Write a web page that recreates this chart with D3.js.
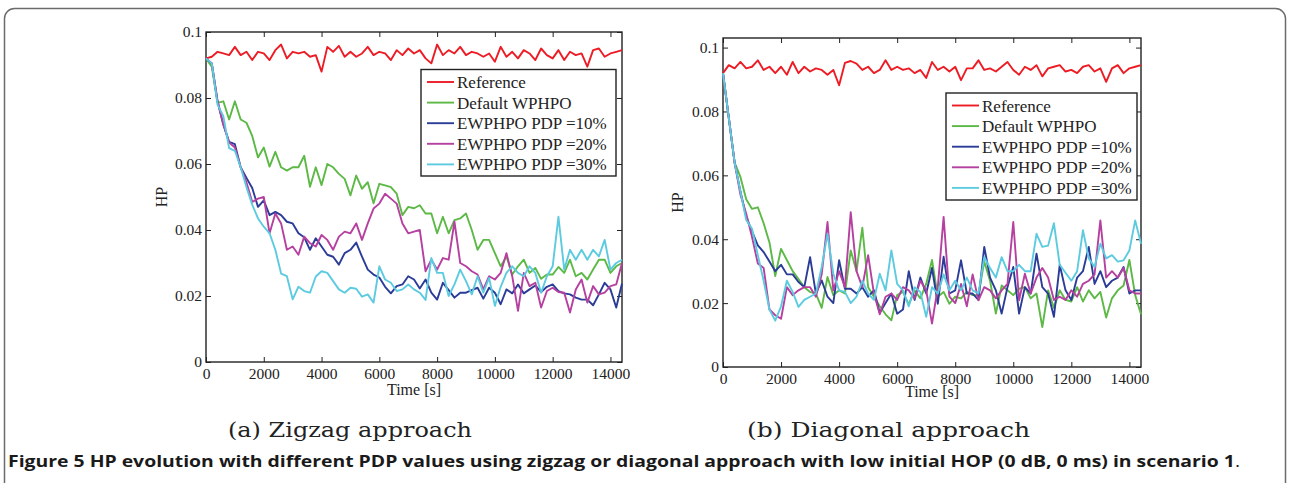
<!DOCTYPE html>
<html>
<head>
<meta charset="utf-8">
<script src="https://cdn.jsdelivr.net/npm/d3@7/dist/d3.min.js"></script>
<style>
  body { margin: 0; background: #fff; }
  svg { display: block; }
  .tick text { font-family: "Liberation Serif", "Times New Roman", serif; font-size: 15.5px; fill: #222; }
</style>
</head>
<body>
<svg id="fig" width="1290" height="483"></svg>
<script>
// time axis (s), one sample every 200 s
var times = d3.range(0, 14401, 200);
var xTicks = [0, 2000, 4000, 6000, 8000, 10000, 12000, 14000];
var yTicks = [0, 0.02, 0.04, 0.06, 0.08, 0.1];
var seriesNames = ["Reference", "Default WPHPO", "EWPHPO PDP =10%", "EWPHPO PDP =20%", "EWPHPO PDP =30%"];
var seriesColors = ["#ed1c24", "#5cb946", "#2a3c97", "#b6409f", "#5ccbe0"];

// (a) zigzag approach
var zigRef = [0.092,0.0925,0.094,0.0935,0.093,0.0955,0.093,0.094,0.0915,0.094,
  0.0935,0.0915,0.0945,0.0962,0.092,0.094,0.0935,0.094,0.0925,0.093,
  0.088,0.0955,0.094,0.0958,0.0925,0.094,0.0925,0.0935,0.0955,0.093,
  0.094,0.0935,0.0915,0.0945,0.093,0.095,0.0935,0.0945,0.092,0.0905,
  0.0962,0.093,0.0945,0.0935,0.0955,0.093,0.094,0.0935,0.0925,0.0935,
  0.091,0.0955,0.0925,0.094,0.092,0.0945,0.0935,0.0915,0.095,0.093,
  0.092,0.0945,0.0915,0.094,0.093,0.0935,0.0895,0.0945,0.095,0.0925,
  0.0935,0.094,0.0945];
var zigDefault = [0.092,0.0895,0.0785,0.079,0.0735,0.079,0.0735,0.0725,0.0685,0.062,
  0.065,0.0592,0.0637,0.059,0.058,0.059,0.059,0.0625,0.0531,0.059,
  0.0536,0.060,0.059,0.057,0.0555,0.0505,0.0565,0.0525,0.0545,0.0481,
  0.054,0.0535,0.053,0.051,0.0445,0.047,0.0466,0.0475,0.045,0.045,
  0.039,0.044,0.039,0.043,0.0435,0.045,0.040,0.034,0.037,0.037,
  0.033,0.029,0.032,0.0265,0.029,0.031,0.027,0.0285,0.0252,0.0265,
  0.0265,0.0288,0.027,0.031,0.026,0.027,0.025,0.028,0.031,0.031,
  0.027,0.029,0.030];
var zigPdp10 = [0.092,0.0905,0.079,0.072,0.0667,0.066,0.059,0.0558,0.0527,0.047,
  0.049,0.0445,0.0455,0.0445,0.0425,0.042,0.039,0.0378,0.034,0.0375,
  0.035,0.0325,0.0319,0.0295,0.033,0.034,0.0362,0.0319,0.028,0.0265,
  0.0256,0.0228,0.0208,0.023,0.0235,0.026,0.025,0.0223,0.025,0.021,
  0.0189,0.024,0.0218,0.0195,0.021,0.021,0.0218,0.0225,0.0192,0.0225,
  0.021,0.0175,0.022,0.0208,0.0235,0.0208,0.022,0.0232,0.0212,0.0228,
  0.0235,0.0215,0.0208,0.0205,0.0195,0.0189,0.0189,0.0172,0.0205,0.024,
  0.022,0.0165,0.0238];
var zigPdp20 = [0.092,0.0905,0.079,0.072,0.0665,0.065,0.059,0.0545,0.0485,0.0495,
  0.050,0.039,0.045,0.042,0.034,0.035,0.0325,0.038,0.036,0.035,
  0.0385,0.037,0.034,0.038,0.0395,0.039,0.042,0.037,0.042,0.0465,
  0.048,0.051,0.0495,0.048,0.042,0.039,0.0395,0.040,0.0275,0.031,
  0.028,0.0315,0.031,0.0425,0.030,0.029,0.0275,0.0265,0.022,0.026,
  0.025,0.027,0.033,0.026,0.0155,0.027,0.023,0.024,0.0165,0.0215,
  0.0225,0.0212,0.021,0.015,0.022,0.025,0.018,0.023,0.0205,0.021,
  0.023,0.0235,0.030];
var zigPdp30 = [0.092,0.0905,0.078,0.0745,0.0648,0.064,0.059,0.053,0.0477,0.0435,
  0.041,0.039,0.034,0.0268,0.026,0.019,0.0228,0.0215,0.021,0.0259,
  0.0275,0.027,0.0245,0.022,0.021,0.0225,0.0222,0.0198,0.0205,0.018,
  0.029,0.025,0.024,0.0215,0.022,0.0235,0.022,0.021,0.0188,0.0315,
  0.027,0.027,0.020,0.0235,0.028,0.0245,0.0205,0.026,0.021,0.0255,
  0.017,0.0228,0.027,0.029,0.027,0.026,0.029,0.027,0.021,0.026,
  0.029,0.044,0.028,0.034,0.031,0.034,0.031,0.034,0.032,0.037,
  0.028,0.030,0.031];

// (b) diagonal approach
var diagRef = [0.092,0.0945,0.0935,0.0955,0.0935,0.094,0.096,0.093,0.094,0.092,
  0.094,0.0915,0.0955,0.092,0.094,0.0925,0.0935,0.093,0.0915,0.093,
  0.0882,0.0952,0.0958,0.095,0.093,0.094,0.092,0.093,0.096,0.093,
  0.094,0.093,0.0935,0.092,0.093,0.0905,0.0955,0.093,0.094,0.0925,
  0.094,0.0898,0.0935,0.0935,0.096,0.093,0.0935,0.0925,0.094,0.0955,
  0.093,0.0915,0.094,0.093,0.0945,0.091,0.0935,0.094,0.0945,0.0925,
  0.093,0.092,0.094,0.0945,0.0925,0.0935,0.0893,0.0935,0.0945,0.092,
  0.0935,0.094,0.0945];
var diagDefault = [0.092,0.078,0.064,0.0595,0.0525,0.0495,0.050,0.045,0.039,0.0285,
  0.037,0.0335,0.030,0.0275,0.025,0.0235,0.023,0.0185,0.0282,0.0225,
  0.024,0.023,0.0365,0.030,0.0436,0.025,0.022,0.019,0.0165,0.0146,
  0.0225,0.0235,0.0195,0.024,0.0215,0.026,0.0335,0.022,0.0235,0.0198,
  0.022,0.0215,0.0235,0.0225,0.0225,0.033,0.027,0.0167,0.0255,0.024,
  0.0225,0.0245,0.025,0.0215,0.023,0.0125,0.024,0.0185,0.024,0.021,
  0.0205,0.025,0.0205,0.024,0.0215,0.0235,0.0155,0.0215,0.024,0.0255,
  0.0335,0.0225,0.0165];
var diagPdp10 = [0.092,0.078,0.064,0.055,0.047,0.0425,0.0381,0.036,0.033,0.030,
  0.032,0.029,0.029,0.0266,0.025,0.0344,0.023,0.0271,0.022,0.020,
  0.0334,0.0245,0.0245,0.023,0.025,0.022,0.024,0.017,0.020,0.023,
  0.0167,0.018,0.030,0.021,0.028,0.023,0.031,0.0198,0.0345,0.023,
  0.024,0.0334,0.023,0.023,0.021,0.0376,0.028,0.024,0.0167,0.025,
  0.0313,0.0167,0.025,0.023,0.0355,0.025,0.023,0.0157,0.032,0.024,
  0.021,0.028,0.030,0.0376,0.026,0.030,0.025,0.027,0.028,0.0313,
  0.023,0.024,0.024];
var diagPdp20 = [0.092,0.078,0.064,0.054,0.048,0.0407,0.0324,0.031,0.018,0.0162,
  0.0151,0.025,0.0225,0.024,0.025,0.025,0.022,0.029,0.0454,0.024,
  0.030,0.025,0.0485,0.030,0.025,0.035,0.023,0.0165,0.022,0.023,
  0.021,0.025,0.024,0.0215,0.027,0.024,0.0136,0.025,0.047,0.022,
  0.020,0.026,0.019,0.029,0.0209,0.025,0.024,0.0215,0.024,0.026,
  0.0454,0.0209,0.0292,0.023,0.028,0.031,0.028,0.021,0.022,0.021,
  0.024,0.022,0.026,0.027,0.029,0.0459,0.028,0.030,0.028,0.031,
  0.024,0.023,0.023];
var diagPdp30 = [0.092,0.078,0.064,0.055,0.046,0.0433,0.035,0.027,0.018,0.0145,
  0.019,0.027,0.0235,0.0188,0.021,0.022,0.023,0.0313,0.0417,0.0292,
  0.024,0.0235,0.020,0.022,0.027,0.023,0.021,0.0292,0.024,0.0365,
  0.026,0.024,0.019,0.025,0.0235,0.0157,0.025,0.023,0.029,0.024,
  0.027,0.024,0.028,0.024,0.023,0.0344,0.031,0.028,0.0344,0.030,
  0.030,0.032,0.030,0.030,0.0417,0.0376,0.038,0.045,0.032,0.0295,
  0.027,0.030,0.0428,0.034,0.0313,0.0386,0.034,0.035,0.033,0.0334,
  0.0365,0.0459,0.0386];

var svg = d3.select("#fig");

// rounded frame around the whole figure
svg.append("rect")
  .attr("x", 4.5).attr("y", 8.5)
  .attr("width", 1281).attr("height", 500)
  .attr("rx", 10)
  .attr("fill", "none")
  .attr("stroke", "#6b6b6b")
  .attr("stroke-width", 1.5);

function drawPanel(cfg) {
  var x = d3.scaleLinear().domain([0, 14400]).range([cfg.left, cfg.right]);
  var y = d3.scaleLinear().domain([0, cfg.yMax]).range([cfg.bottom, cfg.top]);
  var g = svg.append("g");

  var yFmt = function (d) { return d === 0 ? "0" : String(+d.toFixed(2)); };

  g.append("g")
    .attr("transform", "translate(0," + cfg.bottom + ")")
    .call(d3.axisBottom(x).tickValues(xTicks).tickSizeInner(-5).tickSizeOuter(0).tickPadding(cfg.xPad).tickFormat(d3.format("d")));
  g.append("g")
    .attr("transform", "translate(0," + cfg.top + ")")
    .call(d3.axisTop(x).tickValues(xTicks).tickSizeInner(-5).tickSizeOuter(0).tickFormat(""));
  g.append("g")
    .attr("transform", "translate(" + cfg.left + ",0)")
    .call(d3.axisLeft(y).tickValues(yTicks).tickSizeInner(-5).tickSizeOuter(0).tickPadding(4).tickFormat(yFmt));
  g.append("g")
    .attr("transform", "translate(" + cfg.right + ",0)")
    .call(d3.axisRight(y).tickValues(yTicks).tickSizeInner(-5).tickSizeOuter(0).tickFormat(""));

  g.selectAll(".domain").remove();
  g.selectAll(".tick line").attr("stroke", "#222").attr("stroke-width", 1);

  // plot box
  g.append("rect")
    .attr("x", cfg.left).attr("y", cfg.top)
    .attr("width", cfg.right - cfg.left).attr("height", cfg.bottom - cfg.top)
    .attr("fill", "none").attr("stroke", "#222").attr("stroke-width", 1.4);

  var line = d3.line()
    .x(function (d, i) { return x(times[i]); })
    .y(function (d) { return y(d); });

  cfg.series.forEach(function (s, i) {
    g.append("path")
      .datum(s)
      .attr("d", line)
      .attr("fill", "none")
      .attr("stroke", seriesColors[i])
      .attr("stroke-width", 1.9)
      .attr("stroke-linejoin", "round");
  });

  // legend
  var lg = g.append("g");
  lg.append("rect")
    .attr("x", cfg.legX).attr("y", cfg.legY)
    .attr("width", cfg.legW).attr("height", cfg.legH)
    .attr("fill", "#fff").attr("stroke", "#222").attr("stroke-width", 1.4);
  seriesNames.forEach(function (name, i) {
    var ly = cfg.legY + 12.5 + i * 20.6;
    lg.append("line")
      .attr("x1", cfg.legX + 6).attr("x2", cfg.legX + 33)
      .attr("y1", ly).attr("y2", ly)
      .attr("stroke", seriesColors[i]).attr("stroke-width", 1.9);
    lg.append("text")
      .attr("x", cfg.legX + 36).attr("y", ly + 6)
      .style("font-family", "Liberation Serif, Times New Roman, serif")
      .style("font-size", "17px")
      .attr("fill", "#222")
      .text(name);
  });

  // axis titles
  g.append("text")
    .attr("x", (cfg.left + cfg.right) / 2).attr("y", cfg.xTitleY)
    .attr("text-anchor", "middle")
    .style("font-family", "Liberation Serif, Times New Roman, serif")
    .style("font-size", "16px").attr("fill", "#222")
    .text("Time [s]");
  g.append("text")
    .attr("transform", "translate(" + cfg.yTitleX + "," + ((cfg.top + cfg.bottom) / 2) + ") rotate(-90)")
    .attr("text-anchor", "middle")
    .style("font-family", "Liberation Serif, Times New Roman, serif")
    .style("font-size", "16px").attr("fill", "#222")
    .text("HP");

  // sub caption
  g.append("text")
    .attr("x", cfg.capX).attr("y", 437)
    .style("font-family", "DejaVu Serif, serif")
    .style("font-size", "21px").attr("fill", "#222")
    .attr("textLength", cfg.capW).attr("lengthAdjust", "spacingAndGlyphs")
    .text(cfg.caption);
}

drawPanel({
  left: 206, right: 622, top: 32, bottom: 362, yMax: 0.1, xPad: 5.5,
  series: [zigRef, zigDefault, zigPdp10, zigPdp20, zigPdp30],
  legX: 421, legY: 69.5, legW: 195, legH: 106.5,
  xTitleY: 395, yTitleX: 167,
  capX: 228, capW: 244, caption: "(a) Zigzag approach"
});

drawPanel({
  left: 723, right: 1141, top: 38, bottom: 367, yMax: 0.103, xPad: 6,
  series: [diagRef, diagDefault, diagPdp10, diagPdp20, diagPdp30],
  legX: 946, legY: 93, legW: 191, legH: 107,
  xTitleY: 397, yTitleX: 683,
  capX: 747, capW: 283, caption: "(b) Diagonal approach"
});

// figure caption
var cap = svg.append("text")
  .attr("x", 8).attr("y", 467)
  .style("font-family", "Open Sans, Noto Sans, sans-serif")
  .style("font-size", "16px").attr("fill", "#1a1a1a")
  .attr("textLength", 1232).attr("lengthAdjust", "spacingAndGlyphs");
cap.append("tspan").style("font-weight", "bold")
  .text("Figure 5 HP evolution with different PDP values using zigzag or diagonal approach with low initial HOP (0 dB, 0 ms) in scenario 1");
cap.append("tspan").text(".");
</script>
</body>
</html>
